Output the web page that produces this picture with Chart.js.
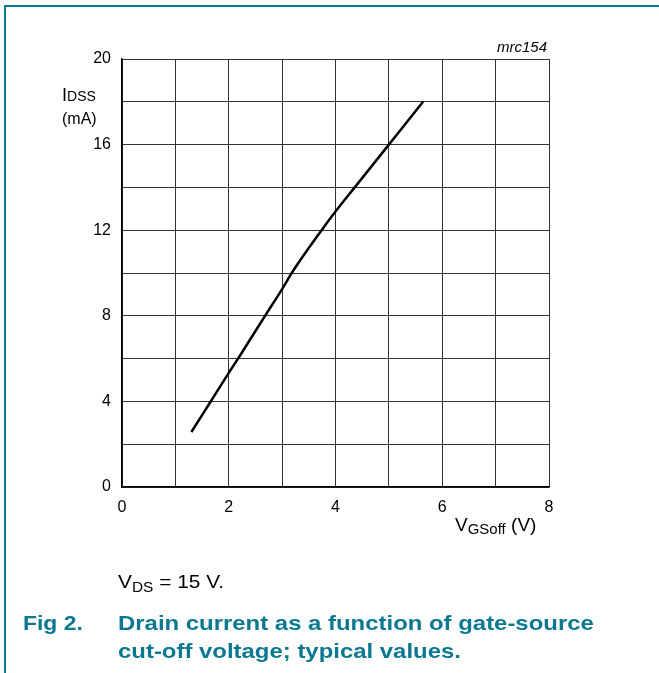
<!DOCTYPE html>
<html>
<head>
<meta charset="utf-8">
<script src="https://cdn.jsdelivr.net/npm/chart.js@4/dist/chart.umd.min.js"></script>
<style>
  html, body { margin: 0; padding: 0; background: #fff; }
  #wrap { position: relative; width: 659px; height: 673px; overflow: hidden; font-family: "Liberation Sans", Arial, sans-serif; color: #000; }
  #frameTop { position: absolute; left: 4px; top: 5px; width: 660px; height: 1.5px; background: #0a7891; }
  #frameLeft { position: absolute; left: 4px; top: 5px; width: 1.5px; height: 700px; background: #0a7891; }
  canvas { position: absolute; left: 0; top: 0; }
  .t { position: absolute; line-height: 1; white-space: nowrap; transform-origin: left top; }
  .cap { color: #0a7891; font-weight: bold; font-size: 21px; }
</style>
</head>
<body>
<div id="wrap">
  <div id="frameTop"></div>
  <div id="frameLeft"></div>
  <canvas id="idssChart" width="659" height="673"></canvas>

  <div class="t" style="left:62px; top:86px; font-size:18px;">I<span style="font-size:14px;">DSS</span></div>
  <div class="t" style="left:62px; top:111px; font-size:16px;">(mA)</div>
  <div class="t" style="left:497px; top:39px; font-size:15px; font-style:italic;">mrc154</div>
  <div class="t" style="left:455px; top:515px; font-size:19px;">V<span style="font-size:15px; position:relative; top:3px;">GSoff</span> (V)</div>
  <div class="t" style="left:118px; top:572px; font-size:19px; transform:scaleX(1.1);">V<span style="font-size:14px; position:relative; top:4px;">DS</span> = 15 V.</div>
  <div class="t cap" style="left:23px; top:612px; transform:scaleX(1.09);">Fig 2.</div>
  <div class="t cap" style="left:118px; top:612px; transform:scaleX(1.139);">Drain current as a function of gate-source</div>
  <div class="t cap" style="left:118px; top:640px; transform:scaleX(1.139);">cut-off voltage; typical values.</div>
</div>

<script>
// IDSS vs VGSoff, typical values (VDS = 15 V)
const vgsOff = [1.3, 1.65, 2.0, 2.2, 2.68, 3.0, 3.18, 3.74, 4.0, 4.36, 5.0, 5.64];
const idss = [2.57, 3.95, 5.33, 6.1, 8.0, 9.25, 10.0, 12.0, 12.87, 14.0, 16.0, 18.0];

const xTicks = [0, 2, 4, 6, 8];
const yTicks = [0, 4, 8, 12, 16, 20];

const points = vgsOff.map(function (v, i) {
  return { x: v, y: idss[i] };
});

const ctx = document.getElementById("idssChart");

new Chart(ctx, {
  type: "scatter",

  data: {
    datasets: [
      {
        data: points,
        showLine: true,
        borderColor: "#000",
        borderWidth: 2.5,
        pointRadius: 0,
        cubicInterpolationMode: "monotone",
        fill: false,
      },
    ],
  },

  options: {
    responsive: false,
    animation: false,
    layout: {
      padding: { left: 0, top: 59, right: 110, bottom: 146 },
    },
    plugins: {
      legend: { display: false },
      tooltip: { enabled: false },
    },
    scales: {
      x: {
        type: "linear",
        min: 0,
        max: 8,
        afterFit: function (s) {
          s.height = 40;
        },
        ticks: {
          stepSize: 1,
          padding: 11,
          color: "#000",
          font: { family: "Liberation Sans", size: 16 },
          maxRotation: 0,
          autoSkip: false,
          callback: function (value) {
            return xTicks.includes(value) ? String(value) : "";
          },
        },
        grid: { color: "#333", lineWidth: 1, drawTicks: false },
        border: { color: "#000", width: 1.5 },
      },
      y: {
        type: "linear",
        min: 0,
        max: 20,
        afterFit: function (s) {
          s.width = 122;
        },
        ticks: {
          stepSize: 2,
          padding: 11,
          color: "#000",
          font: { family: "Liberation Sans", size: 16 },
          autoSkip: false,
          callback: function (value) {
            return yTicks.includes(value) ? String(value) : "";
          },
        },
        grid: { color: "#333", lineWidth: 1, drawTicks: false },
        border: { color: "#000", width: 1.5 },
      },
    },
  },
});
</script>
</body>
</html>
